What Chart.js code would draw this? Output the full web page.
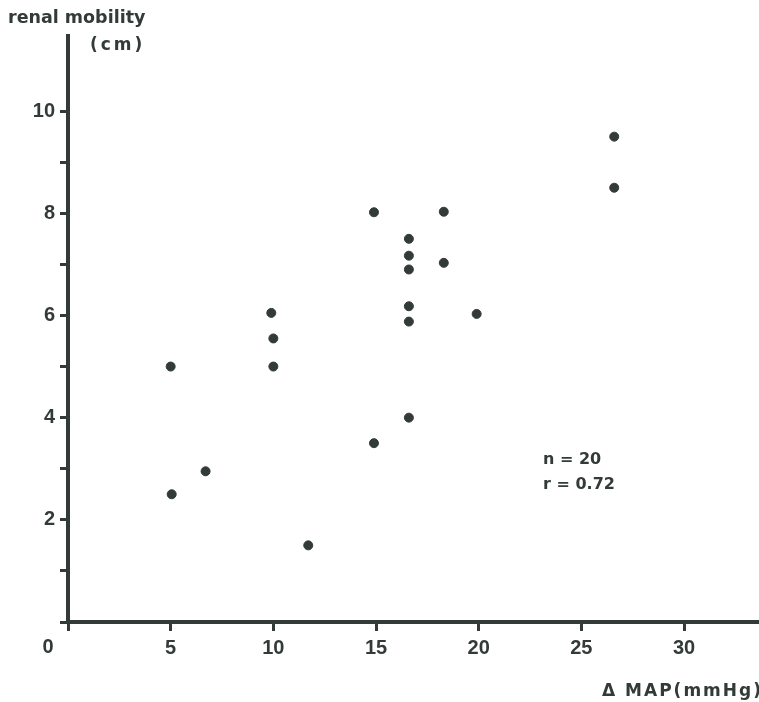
<!DOCTYPE html>
<html>
<head>
<meta charset="utf-8">
<script src="https://cdn.jsdelivr.net/npm/chart.js@4.4.1/dist/chart.umd.min.js"></script>
<style>
  html, body { margin: 0; padding: 0; background: #fff; }
  #wrap { width: 759px; height: 702px; }
</style>
</head>
<body>
<div id="wrap"><canvas id="mobility"></canvas></div>
<script>
// change in mean arterial pressure (mmHg) vs renal mobility (cm)
const deltaMap = [5, 5.05, 6.7, 9.9, 10, 10, 11.7, 14.9, 14.9, 16.6,
                  16.6, 16.6, 16.6, 16.6, 16.6, 18.3, 18.3, 19.9, 26.6, 26.6];
const mobility = [5, 2.5, 2.95, 6.05, 5.55, 5, 1.5, 8.02, 3.5, 7.5,
                  7.17, 6.9, 6.18, 5.88, 4, 8.03, 7.03, 6.03, 9.5, 8.5];
const xTicks = [5, 10, 15, 20, 25, 30];
const yLabels = [2, 4, 6, 8, 10];
const statsText = ['n = 20', 'r = 0.72'];

const ink = '#323b38';
const tickFont = { family: '"Liberation Sans", Arial, sans-serif', size: 20, weight: 'bold' };

const points = deltaMap.map((x, i) => ({ x: x, y: mobility[i] }));

// extra text: axis titles, origin zero and the stats block
const annotations = {
  id: 'annotations',
  afterDraw(chart) {
    const ctx = chart.ctx;
    ctx.save();
    ctx.fillStyle = ink;
    ctx.textBaseline = 'alphabetic';
    ctx.textAlign = 'left';
    ctx.font = 'bold 17.5px "DejaVu Sans", sans-serif';
    ctx.fillText('renal mobility', 8, 23);
    ctx.font = 'bold 16px "DejaVu Sans", sans-serif';
    ctx.fillText(statsText[0], 543, 464);
    ctx.fillText(statsText[1], 543, 489);
    ctx.letterSpacing = '3px';
    ctx.font = 'bold 17px "DejaVu Sans", sans-serif';
    ctx.fillText('(cm)', 90, 50);
    ctx.letterSpacing = '2px';
    ctx.fillText('\u0394 MAP(mmHg)', 602, 696);
    ctx.letterSpacing = '0px';
    ctx.font = 'bold 20px "Liberation Sans", Arial, sans-serif';
    ctx.textAlign = 'center';
    ctx.textBaseline = 'middle';
    ctx.fillText('0', 48, 647);
    ctx.restore();
  }
};

new Chart('mobility', {
  type: 'scatter',
  data: {
    datasets: [{
      data: points,
      backgroundColor: ink,
      borderColor: ink,
      pointRadius: 4.5,
      pointHoverRadius: 4.5
    }]
  },
  options: {
    responsive: true,
    maintainAspectRatio: false,
    animation: false,
    layout: { autoPadding: false, padding: { top: 36, right: 0, left: 0, bottom: 0 } },
    plugins: { legend: { display: false }, tooltip: { enabled: false } },
    scales: {
      x: {
        type: 'linear',
        min: 0,
        max: 33.65,
        afterFit(scale) {
          scale.height = 80;
          scale.paddingLeft = 0;
          scale.paddingRight = 0;
        },
        afterBuildTicks(scale) {
          scale.ticks = [0].concat(xTicks).map(v => ({ value: v }));
        },
        grid: {
          display: true,
          drawOnChartArea: false,
          drawTicks: true,
          tickLength: 9,
          tickWidth: 3,
          tickColor: ink
        },
        border: { display: true, color: ink, width: 4 },
        ticks: {
          color: ink,
          font: tickFont,
          padding: 5,
          maxRotation: 0,
          callback: v => (v === 0 ? '' : v)
        }
      },
      y: {
        type: 'linear',
        min: 0,
        max: 11.47,
        afterFit(scale) {
          scale.width = 68;
          scale.paddingTop = 0;
          scale.paddingBottom = 0;
        },
        afterBuildTicks(scale) {
          const t = [];
          for (let v = 0; v <= 10; v++) t.push({ value: v });
          scale.ticks = t;
        },
        grid: {
          display: true,
          drawOnChartArea: false,
          drawTicks: true,
          tickLength: 8,
          tickWidth: 3,
          tickColor: ink
        },
        border: { display: true, color: ink, width: 4 },
        ticks: {
          color: ink,
          font: tickFont,
          padding: 5,
          callback: v => (yLabels.includes(v) ? v : '')
        }
      }
    }
  },
  plugins: [annotations]
});
</script>
</body>
</html>
